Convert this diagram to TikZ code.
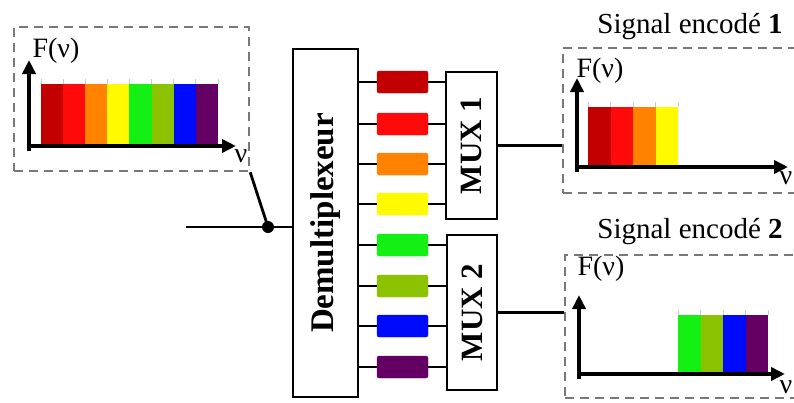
\documentclass[tikz,border=0pt]{standalone}
\usepackage{fontspec}
\setmainfont{Liberation Serif}
\usetikzlibrary{arrows.meta}
\definecolor{cA}{RGB}{195,0,0}
\definecolor{cB}{RGB}{255,10,10}
\definecolor{cC}{RGB}{255,130,0}
\definecolor{cD}{RGB}{255,250,0}
\definecolor{cE}{RGB}{20,240,20}
\definecolor{cF}{RGB}{140,195,0}
\definecolor{cG}{RGB}{0,10,250}
\definecolor{cH}{RGB}{100,0,100}
\definecolor{dashgray}{RGB}{120,120,120}
\begin{document}
\begin{tikzpicture}[x=1pt,y=-1pt,
  dashbox/.style={draw=dashgray, line width=2.4pt, dash pattern=on 9pt off 6pt, inner sep=0pt},
  block/.style={draw=black, line width=2.6pt, fill=white, inner sep=0pt},
  filt/.style={fill=#1, draw=#1, rounded corners=2pt, minimum width=51pt, minimum height=22pt, inner sep=0pt},
  wire/.style={draw=black, line width=2.8pt},
  axis/.style={draw=black, line width=3.6pt, -{Triangle[length=14pt,width=13pt]}},
  lbl/.style={font=\fontsize{28}{32}\selectfont, inner sep=0pt},
  blbl/.style={font=\bfseries\fontsize{31}{34}\selectfont, rotate=90, inner sep=0pt},
  bar/.style={fill=#1, draw=none},
  tick/.style={draw=gray!40, line width=0.6pt}
]
\useasboundingbox (0,0) rectangle (794,402);
\clip (0,0) rectangle (794,402);

% dashed spectrum boxes
\node[dashbox, minimum width=235pt, minimum height=144pt] (in) at (131.5,99) {};
\node[dashbox, minimum width=247pt, minimum height=145pt] (s1) at (686.5,120.5) {};
\node[dashbox, minimum width=245pt, minimum height=143pt] (s2) at (687.5,326.5) {};

% input spectrum
\foreach \c [count=\i from 0] in {cA,cB,cC,cD,cE,cF,cG,cH} {
  \fill[\c] ({41+\i*22.1},84) rectangle ({41+(\i+1)*22.1},146);
  \draw[tick] ({41+\i*22.1},79) -- ({41+\i*22.1},84);
}
\draw[tick] (217.8,79) -- (217.8,84);
\coordinate (inY0) at (29,151); \coordinate (inY1) at (29,60);
\coordinate (inX0) at (27,146); \coordinate (inX1) at (236,146);
\draw[axis] (inY0) -- (inY1);
\draw[axis] (inX0) -- (inX1);
\node[lbl] (inF) at (56,51) {F(ν)};
\node[lbl] (inN) at (241,156) {ν};

% encoded signal 1
\foreach \c [count=\i from 0] in {cA,cB,cC,cD} {
  \fill[\c] ({588+\i*22.5},107) rectangle ({588+(\i+1)*22.5},167);
  \draw[tick] ({588+\i*22.5},102) -- ({588+\i*22.5},107);
}
\draw[tick] (678,102) -- (678,107);
\coordinate (aY0) at (577,172); \coordinate (aY1) at (577,78);
\coordinate (aX0) at (575,167); \coordinate (aX1) at (788,167);
\draw[axis] (aY0) -- (aY1);
\draw[axis] (aX0) -- (aX1);
\node[lbl] (aF) at (600,71) {F(ν)};
\node[lbl] (aN) at (786,178) {ν};
\node[lbl, font=\fontsize{29}{32}\selectfont, anchor=base] (t1) at (690,33) {Signal encodé \textbf{1}};

% encoded signal 2
\foreach \c [count=\i from 0] in {cE,cF,cG,cH} {
  \fill[\c] ({678+\i*22.5},315) rectangle ({678+(\i+1)*22.5},374);
  \draw[tick] ({678+\i*22.5},310) -- ({678+\i*22.5},315);
}
\draw[tick] (768,310) -- (768,315);
\coordinate (bY0) at (579,379); \coordinate (bY1) at (579,295);
\coordinate (bX0) at (577,374); \coordinate (bX1) at (785,374);
\draw[axis] (bY0) -- (bY1);
\draw[axis] (bX0) -- (bX1);
\node[lbl] (bF) at (601,269) {F(ν)};
\node[lbl] (bN) at (786,387) {ν};
\node[lbl, font=\fontsize{29}{32}\selectfont, anchor=base] (t2) at (690,238) {Signal encodé \textbf{2}};

% blocks
\node[block, minimum width=65pt, minimum height=348pt] (dmx) at (325.5,223) {};
\node[blbl, font=\bfseries\fontsize{33}{36}\selectfont] at (dmx.center) {Demultiplexeur};
\node[block, minimum width=51pt, minimum height=147pt] (mux1) at (471.5,145.5) {};
\node[blbl] at (mux1.center) {MUX 1};
\node[block, minimum width=50pt, minimum height=155pt] (mux2) at (472,312.5) {};
\node[blbl] at (mux2.center) {MUX 2};

% filters
\node[filt=cA] (f1) at (402.5,82) {};
\node[filt=cB] (f2) at (402.5,124) {};
\node[filt=cC] (f3) at (402.5,164) {};
\node[filt=cD] (f4) at (402.5,204) {};
\node[filt=cE] (f5) at (402.5,245) {};
\node[filt=cF] (f6) at (402.5,286) {};
\node[filt=cG] (f7) at (402.5,326) {};
\node[filt=cH] (f8) at (402.5,367) {};
\foreach \f in {f1,f2,f3,f4} {
  \draw[wire] (\f.west -| dmx.east) -- (\f.west);
  \draw[wire] (\f.east) -- (\f.east -| mux1.west);
}
\foreach \f in {f5,f6,f7,f8} {
  \draw[wire] (\f.west -| dmx.east) -- (\f.west);
  \draw[wire] (\f.east) -- (\f.east -| mux2.west);
}

% outputs
\draw[wire] (mux1.east) -- (mux1.east -| s1.west);
\draw[wire] (mux2.east) -- (mux2.east -| s2.west);

% input
\coordinate (src) at (186,227);
\coordinate (dot) at (268,227);
\draw[wire] (src) -- (src -| dmx.west);
\draw[wire] (in.south east) -- (dot);
\fill (dot) circle (6pt);
\end{tikzpicture}
\end{document}
